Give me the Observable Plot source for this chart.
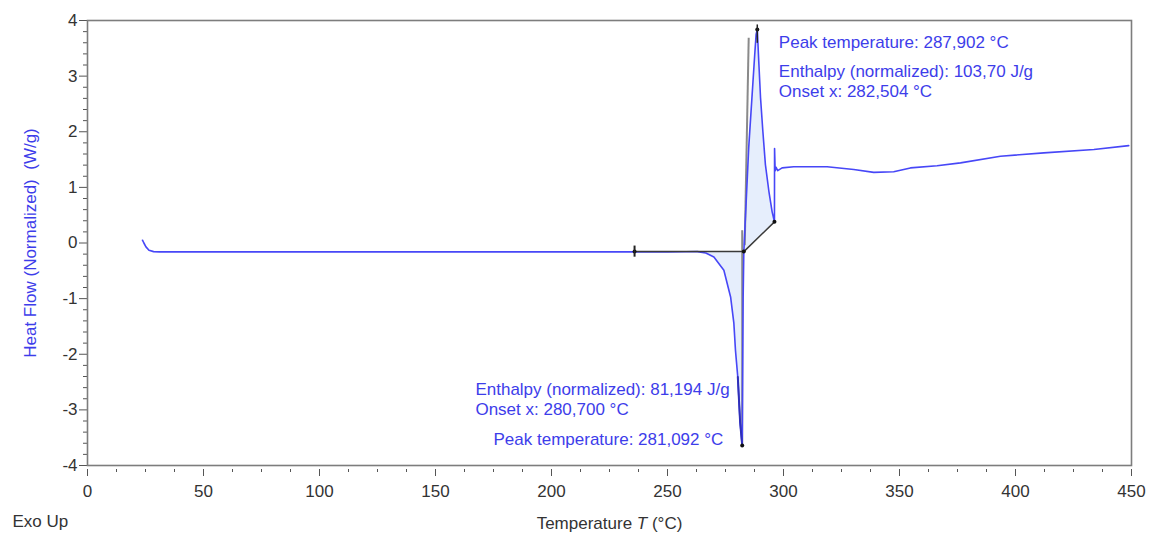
<!DOCTYPE html>
<html>
<head>
<meta charset="utf-8">
<script src="https://cdn.jsdelivr.net/npm/d3@7"></script>
<script src="https://cdn.jsdelivr.net/npm/@observablehq/plot@0.6"></script>
<style>
  body { margin: 0; background: #fff; }
  #chart svg { display: block; }
</style>
</head>
<body>
<div id="chart"></div>
<script>
// ---- Data ----
const temperature = [23.7, 24.3, 25.2, 26.5, 28.5, 31, 60, 100, 150, 200, 235.8, 250, 258, 262.9, 266.5, 270.0, 274.3, 277.2, 278.6, 279.3, 280.3, 281.3, 282.2, 282.6, 282.9, 285.0, 287.6, 288.2, 288.7, 289.4, 290.1, 291.1, 292.2, 293.7, 295.1, 296.1, 296.15, 296.4, 296.8, 297.5, 299.4, 304.4, 318.8, 330.3, 338.9, 347.5, 354.7, 366.2, 376.3, 393.5, 412.2, 433.8, 448.8];
const heatFlow    = [0.05, 0.0, -0.07, -0.13, -0.155, -0.16, -0.16, -0.16, -0.16, -0.16, -0.16, -0.16, -0.157, -0.155, -0.18, -0.25, -0.49, -0.97, -1.44, -1.93, -2.41, -3.22, -3.64, -1.0, -0.155, 1.71, 3.39, 3.75, 3.84, 3.21, 2.61, 2.01, 1.41, 0.93, 0.56, 0.38, 1.70, 1.30, 1.36, 1.30, 1.35, 1.37, 1.37, 1.32, 1.27, 1.28, 1.35, 1.39, 1.44, 1.56, 1.62, 1.68, 1.75];

// integration baselines
const endoBaseT = [235.8, 282.9];
const endoBaseV = [-0.155, -0.155];
const exoBaseT  = [282.9, 296.1];
const exoBaseV  = [-0.155, 0.38];
const endoFillRange = [262.9, 282.9];

// onset tangent lines (grey)
const tangentT1 = [283.3, 282.2];
const tangentV1 = [-0.04, 0.23];
const tangentT2 = [285.0, 282.2];
const tangentV2 = [3.69, -3.64];

// evaluation markers
const markerT = [235.8, 282.9, 296.1, 282.2, 288.7];
const markerV = [-0.155, -0.155, 0.38, -3.64, 3.84];

// annotation texts
const annoText = [
  "Peak temperature: 287,902 °C",
  "Enthalpy (normalized): 103,70 J/g",
  "Onset x: 282,504 °C",
  "Enthalpy (normalized): 81,194 J/g",
  "Onset x: 280,700 °C",
  "Peak temperature: 281,092 °C"
];
const annoT = [298.0, 298.0, 298.0, 167.2, 167.2, 175.0];
const annoV = [3.60, 3.09, 2.73, -2.63, -2.99, -3.53];

// axes
const xMajorTicks = [0, 50, 100, 150, 200, 250, 300, 350, 400, 450];
const yMajorTicks = [-4, -3, -2, -1, 0, 1, 2, 3, 4];
const xLabelText = "Temperature T (°C)";
const yLabelText = "Heat Flow (Normalized)  (W/g)";
const cornerText = "Exo Up";

// ---- Build tables ----
const curve = temperature.map((t, i) => ({t, v: heatFlow[i]}));
const lerp = (t, t0, v0, t1, v1) => v0 + (v1 - v0) * (t - t0) / (t1 - t0);
const endoFill = curve.filter(d => d.t >= endoFillRange[0] && d.t <= endoFillRange[1])
  .map(d => ({t: d.t, v: d.v, b: endoBaseV[0]}));
const exoFill = curve.filter(d => d.t >= exoBaseT[0] && d.t <= exoBaseT[1])
  .map(d => ({t: d.t, v: d.v, b: lerp(d.t, exoBaseT[0], exoBaseV[0], exoBaseT[1], exoBaseV[1])}));
const endoBase = endoBaseT.map((t, i) => ({t, v: endoBaseV[i]}));
const exoBase = exoBaseT.map((t, i) => ({t, v: exoBaseV[i]}));
const tangents = tangentT1.map((t, i) => ({x1: t, y1: tangentV1[i], x2: tangentT2[i], y2: tangentV2[i]}));
const markers = markerT.map((t, i) => ({t, v: markerV[i]}));
const annotations = annoText.map((text, i) => ({text, t: annoT[i], v: annoV[i]}));
const xMinorTicks = d3.range(0, 450.1, 12.5).filter(d => !xMajorTicks.includes(d));
const yMinorTicks = d3.range(-4, 4.01, 0.2).map(d => Math.round(d * 10) / 10).filter(d => !yMajorTicks.includes(d));

const FONT = "'Liberation Sans', Arial, Helvetica, sans-serif";
const curveBlue = "#4747f7";
const textBlue = "#3d3dea";
const fillBlue = "#e6eefc";
const axisInk = "#333333";

const chart = Plot.plot({
  width: 1154,
  height: 539,
  marginLeft: 87,
  marginRight: 23,
  marginTop: 20,
  marginBottom: 74,
  style: {fontFamily: FONT, background: "#ffffff", color: axisInk},
  x: {type: "linear", domain: [0, 450]},
  y: {type: "linear", domain: [-4, 4]},
  marks: [
    Plot.areaY(endoFill, {x: "t", y1: "b", y2: "v", fill: fillBlue}),
    Plot.areaY(exoFill, {x: "t", y1: "b", y2: "v", fill: fillBlue}),
    Plot.link(tangents, {x1: "x1", y1: "y1", x2: "x2", y2: "y2", stroke: "#8a8a8a", strokeWidth: 2}),
    Plot.line(curve, {x: "t", y: "v", stroke: curveBlue, strokeWidth: 1.6}),
    Plot.line(curve.filter(d => d.t >= 280.3 && d.t <= 282.2), {x: "t", y: "v", stroke: "#2f2fb8", strokeWidth: 2}),
    Plot.line(endoBase, {x: "t", y: "v", stroke: "#3a3a3a", strokeWidth: 1.5}),
    Plot.line(exoBase, {x: "t", y: "v", stroke: "#3a3a3a", strokeWidth: 1.5}),
    Plot.dot(markers, {x: "t", y: "v", r: 2, fill: "#111"}),
    Plot.ruleX(markers.slice(0, 1), {x: "t", y1: d => d.v - 0.1, y2: d => d.v + 0.1, stroke: "#222", strokeWidth: 2}),
    Plot.ruleX(markers.slice(4, 5), {x: "t", y1: d => d.v - 0.25, y2: d => d.v + 0.08, stroke: "#222", strokeWidth: 1.5}),
    Plot.text(annotations, {x: "t", y: "v", text: "text", textAnchor: "start", fill: textBlue, fontSize: 17}),
    Plot.axisY(yMajorTicks, {tickSize: 8, tickPadding: 2, fontSize: 17, label: null, tickFormat: d => String(d), stroke: "#555"}),
    Plot.axisY(yMinorTicks, {tickSize: 4, tickFormat: () => "", label: null, stroke: "#555"}),
    Plot.axisX(xMajorTicks, {tickSize: 7, tickPadding: 8, dy: 4, fontSize: 17, label: null, tickFormat: d => String(d), stroke: "#555"}),
    Plot.axisX(xMinorTicks, {tickSize: 3, dy: 4, tickFormat: () => "", label: null, stroke: "#555"}),
    Plot.text([yLabelText], {text: d => d, frameAnchor: "left", dx: -57, rotate: -90, textAnchor: "middle", lineAnchor: "middle", fill: textBlue, fontSize: 17}),
    Plot.text([xLabelText], {text: d => d, frameAnchor: "bottom", dy: 58, textAnchor: "middle", lineAnchor: "middle", fill: axisInk, fontSize: 17}),
    Plot.text([cornerText], {text: d => d, frameAnchor: "bottom-left", dx: -75, dy: 56, textAnchor: "start", lineAnchor: "middle", fill: axisInk, fontSize: 17}),
    Plot.frame({stroke: "#7d7d7d", strokeWidth: 1.6})
  ]
});

// italicise the variable symbol in the x label
chart.querySelectorAll("text").forEach(el => {
  if (el.textContent === xLabelText) {
    el.textContent = "";
    const ns = "http://www.w3.org/2000/svg";
    const parts = [["Temperature ", null], ["T", "italic"], [" (°C)", null]];
    for (const [s, style] of parts) {
      const ts = document.createElementNS(ns, "tspan");
      ts.textContent = s;
      if (style) ts.setAttribute("font-style", style);
      el.appendChild(ts);
    }
  }
});

document.getElementById("chart").appendChild(chart);
</script>
</body>
</html>
